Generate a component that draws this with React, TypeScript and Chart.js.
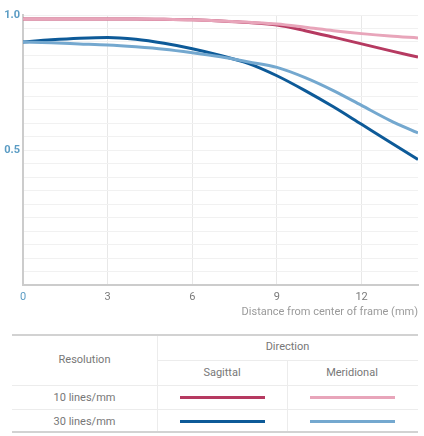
import React, { useEffect, useRef } from "react";
import { Chart, registerables } from "chart.js";

Chart.register(...registerables);

const distances = [0, 1, 2, 3, 4, 5, 6, 7, 8, 9, 10, 11, 12, 13, 14];
const sagittal10 = [0.985, 0.985, 0.985, 0.985, 0.985, 0.984, 0.982, 0.978, 0.972, 0.963, 0.942, 0.918, 0.893, 0.868, 0.844];
const meridional10 = [0.985, 0.985, 0.985, 0.985, 0.985, 0.984, 0.982, 0.978, 0.973, 0.967, 0.955, 0.942, 0.931, 0.922, 0.915];
const sagittal30 = [0.9, 0.908, 0.914, 0.917, 0.91, 0.895, 0.875, 0.85, 0.82, 0.775, 0.72, 0.66, 0.595, 0.53, 0.465];
const meridional30 = [0.9, 0.897, 0.893, 0.889, 0.882, 0.873, 0.86, 0.845, 0.826, 0.806, 0.768, 0.72, 0.665, 0.61, 0.563];

const xTicks = [0, 3, 6, 9, 12];
const yLabelTicks = [0.5, 1.0];
const yGridTicks = [0, 0.05, 0.1, 0.15, 0.2, 0.25, 0.3, 0.35, 0.4, 0.45, 0.5, 0.55, 0.6, 0.65, 0.7, 0.75, 0.8, 0.85, 0.9, 0.95, 1.0];

const seriesNames = ["Sagittal 10", "Meridional 10", "Sagittal 30", "Meridional 30"];
const seriesColors = ["#b63a61", "#e8a5ba", "#0d5a98", "#74a8cf"];

const xTitle = "Distance from center of frame (mm)";
const resolutionLabels = ["10 lines/mm", "30 lines/mm"];
const directionLabels = ["Sagittal", "Meridional"];

const blue = "#5b9cc4";
const narrow = "'Liberation Sans Narrow', 'Roboto', sans-serif";

export default function App() {
  const ref = useRef<HTMLCanvasElement>(null);

  useEffect(() => {
    if (!ref.current) return;
    const all = [sagittal10, meridional10, sagittal30, meridional30];
    const order = [1, 0, 3, 2];
    const chart = new Chart(ref.current, {
      type: "line",
      data: {
        datasets: order.map((i) => ({
          label: seriesNames[i],
          data: distances.map((d, k) => ({ x: d, y: all[i][k] })),
          borderColor: seriesColors[i],
          backgroundColor: seriesColors[i],
          borderWidth: 3,
          pointRadius: 0,
          cubicInterpolationMode: "monotone" as const,
          fill: false,
        })),
      },
      options: {
        animation: false,
        responsive: false,
        maintainAspectRatio: false,
        layout: { padding: { left: 0, right: 6, top: 15, bottom: 0 } },
        plugins: { legend: { display: false }, tooltip: { enabled: false } },
        scales: {
          x: {
            type: "linear",
            min: 0,
            max: 14,
            afterBuildTicks: (s: any) => {
              s.ticks = xTicks.map((v) => ({ value: v }));
            },
            afterFit: (s: any) => {
              s.height = 35;
            },
            grid: {
              color: (c: any) => (c.tick && c.tick.value === 0 ? "rgba(0,0,0,0)" : "#e8e8e8"),
              lineWidth: 1,
              drawTicks: false,
            },
            border: { display: true, color: "#cccccc", width: 2 },
            ticks: {
              padding: 6,
              font: { family: "Roboto", size: 11 },
              color: (c: any) => (c.tick && c.tick.value === 0 ? blue : "#7a7a7a"),
              callback: (v: any) => String(v),
            },
            title: {
              display: true,
              text: xTitle,
              align: "end",
              color: "#9a9a9a",
              font: { family: narrow, size: 11 },
              padding: { top: 0, bottom: 1 },
            },
          },
          y: {
            type: "linear",
            min: 0,
            max: 1,
            afterBuildTicks: (s: any) => {
              s.ticks = yGridTicks.map((v) => ({ value: v }));
            },
            afterFit: (s: any) => {
              s.width = 23;
            },
            grid: {
              color: (c: any) => (c.tick && c.tick.value === 0 ? "rgba(0,0,0,0)" : "#f1f1f1"),
              lineWidth: 1,
              drawTicks: false,
            },
            border: { display: true, color: "#cccccc", width: 2 },
            ticks: {
              padding: 3,
              font: { family: "Roboto", size: 11, weight: "bold" },
              color: blue,
              autoSkip: false,
              callback: (v: any) => {
                const n = Number(v);
                return yLabelTicks.some((t) => Math.abs(t - n) < 1e-6) ? n.toFixed(1) : "";
              },
            },
          },
        },
      },
    } as any);
    return () => chart.destroy();
  }, []);

  const cellText: React.CSSProperties = {
    position: "absolute",
    fontFamily: narrow,
    fontSize: 11,
    color: "#777777",
    textAlign: "center",
    lineHeight: "14px",
  };
  const hLine = (top: number, left: number, width: number, color: string, h = 1) => (
    <div style={{ position: "absolute", top, left, width, height: h, background: color }} />
  );
  const vLine = (left: number, top: number, height: number) => (
    <div style={{ position: "absolute", top, left, width: 1, height, background: "#ececec" }} />
  );

  const rowTops = [385, 409];
  const colCenters = [222, 352];

  return (
    <div style={{ position: "absolute", left: 0, top: 0, width: 424, height: 436, background: "#fff" }}>
      <canvas ref={ref} width={424} height={320} style={{ position: "absolute", left: 0, top: 0, width: 424, height: 320 }} />
      {hLine(334, 12, 406, "#d2d2d2", 2)}
      {hLine(360, 157, 261, "#ececec")}
      {hLine(385, 12, 406, "#ececec")}
      {hLine(409, 12, 406, "#ececec")}
      {hLine(431, 12, 406, "#d2d2d2", 2)}
      {vLine(157, 336, 95)}
      {vLine(287, 361, 70)}
      <div style={{ ...cellText, left: 12, width: 145, top: 353 }}>Resolution</div>
      <div style={{ ...cellText, left: 157, width: 261, top: 340 }}>Direction</div>
      {directionLabels.map((d, i) => (
        <div key={d} style={{ ...cellText, left: colCenters[i] - 65, width: 130, top: 366 }}>{d}</div>
      ))}
      {resolutionLabels.map((r, i) => (
        <div key={r} style={{ ...cellText, left: 12, width: 145, top: rowTops[i] + 6 }}>{r}</div>
      ))}
      {resolutionLabels.map((r, ri) =>
        directionLabels.map((d, di) => (
          <div
            key={r + d}
            style={{
              position: "absolute",
              left: colCenters[di] - 42,
              width: 85,
              top: rowTops[ri] + 11,
              height: 3,
              background: seriesColors[ri * 2 + di],
            }}
          />
        ))
      )}
    </div>
  );
}
